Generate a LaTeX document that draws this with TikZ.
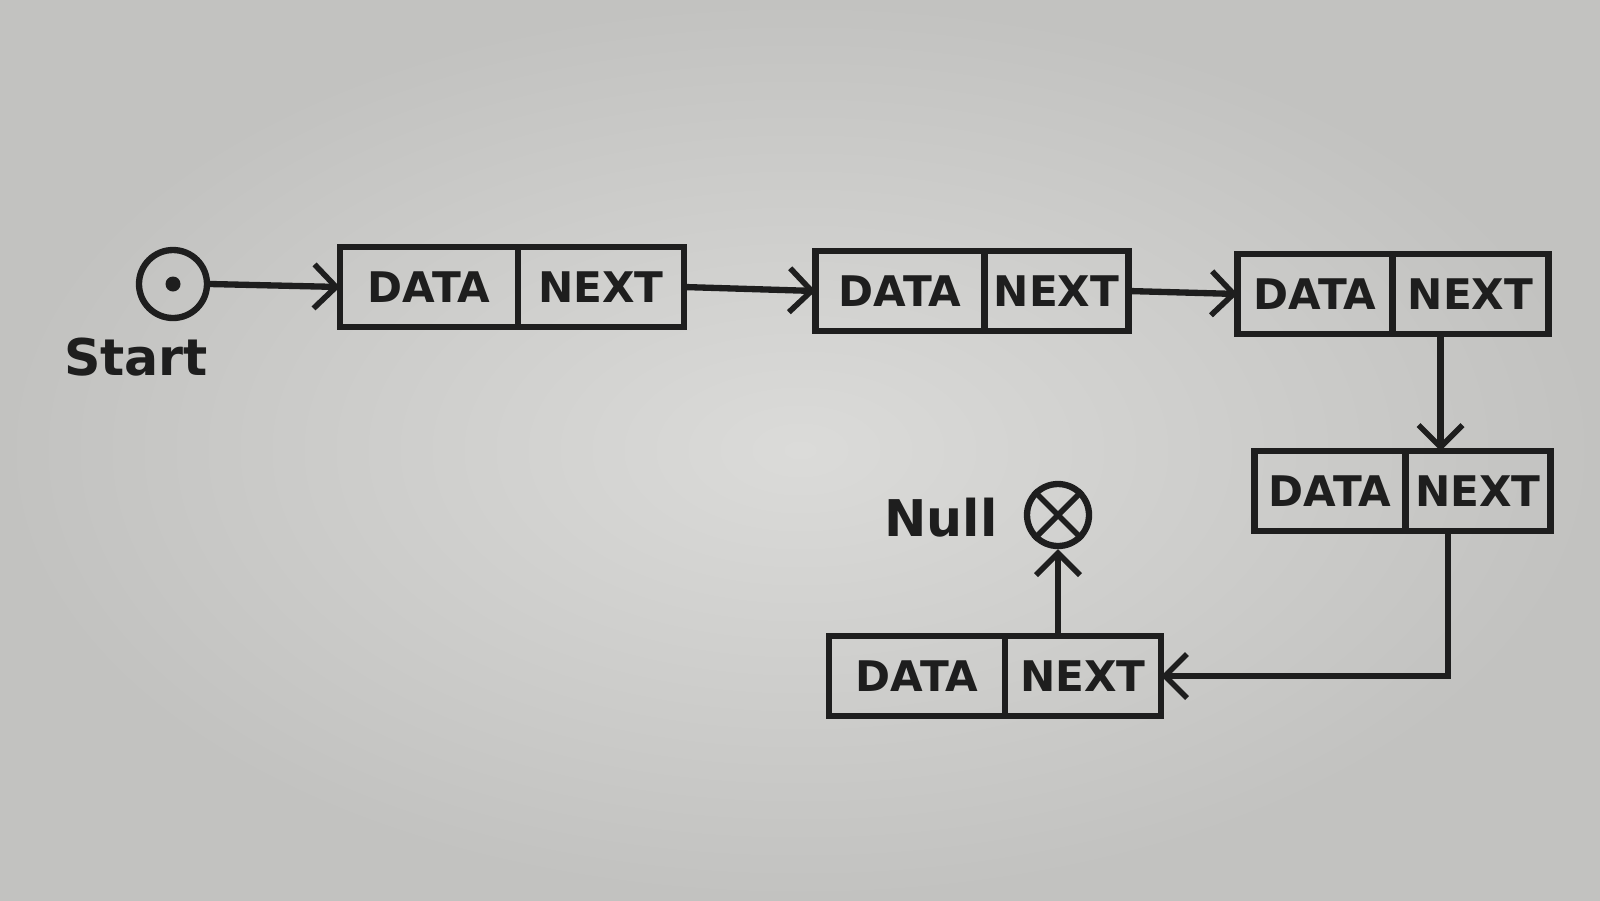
\documentclass[tikz,border=0pt]{standalone}
\usepackage{fontspec}
\setsansfont{DejaVu Sans}
\usetikzlibrary{positioning, arrows.meta}
\definecolor{ink}{HTML}{1E1E1E}
\definecolor{paperlight}{HTML}{DBDBD9}
\definecolor{paperdark}{HTML}{C2C2C0}

\begin{document}
\begin{tikzpicture}[
  cell/.style={draw=ink, line width=1.8pt, outer sep=0pt, minimum height=0.8cm, inner sep=2pt, font=\sffamily\bfseries\large, text=ink},
  datacell/.style={cell},
  nextcell/.style={cell},
  ring/.style={circle, draw=ink, line width=1.8pt, inner sep=0pt},
  lbl/.style={font=\sffamily\bfseries\Large, text=ink},
  arr/.style={-{Straight Barb[length=2.2mm, width=4.4mm, line width=1.6pt]}, line width=1.8pt, ink}
]

% paper
\shade[inner color=paperlight, outer color=paperdark] (0,0) rectangle (16,-9);
\useasboundingbox (0,0) rectangle (16,-9);

% head pointer
\node[ring, minimum size=0.68cm] (start) at (1.73,-2.84) {};
\fill[ink] (start.center) circle (0.075);
\node[lbl] (startlbl) at (1.36,-3.57) {Start};

% list elements
\node[datacell, minimum width=1.78cm] (d1) at (4.29,-2.87) {DATA};
\node[nextcell, minimum width=1.66cm, right=0pt of d1] (n1) {NEXT};

\node[datacell, minimum width=1.69cm] (d2) at (9.00,-2.91) {DATA};
\node[nextcell, minimum width=1.44cm, right=0pt of d2] (n2) {NEXT};

\node[datacell, minimum width=1.55cm] (d3) at (13.15,-2.94) {DATA};
\node[nextcell, minimum width=1.56cm, right=0pt of d3] (n3) {NEXT};

\node[datacell, minimum width=1.51cm] (d4) at (13.30,-4.91) {DATA};
\node[nextcell, minimum width=1.45cm, right=0pt of d4] (n4) {NEXT};

\node[datacell, minimum width=1.76cm] (d5) at (9.17,-6.76) {DATA};
\node[nextcell, minimum width=1.56cm, right=0pt of d5] (n5) {NEXT};

% end of list
\node[ring, minimum size=0.62cm] (null) at (10.58,-5.15) {};
\draw[ink, line width=1.6pt] (null.north west) -- (null.south east);
\draw[ink, line width=1.6pt] (null.north east) -- (null.south west);
\node[lbl] (nulllbl) at (9.41,-5.18) {Null};

% links
\draw[arr] (start.east) -- (d1.west);
\draw[arr] (n1.east) -- (d2.west);
\draw[arr] (n2.east) -- (d3.west);
\draw[arr] ([xshift=-0.3cm]n3.south) -- ([xshift=-0.3cm]n3.south |- n4.north);
\draw[arr] ([xshift=-0.3cm]n4.south) |- (n5.east);
\draw[arr] (null |- n5.north) -- (null.south);

\end{tikzpicture}
\end{document}
